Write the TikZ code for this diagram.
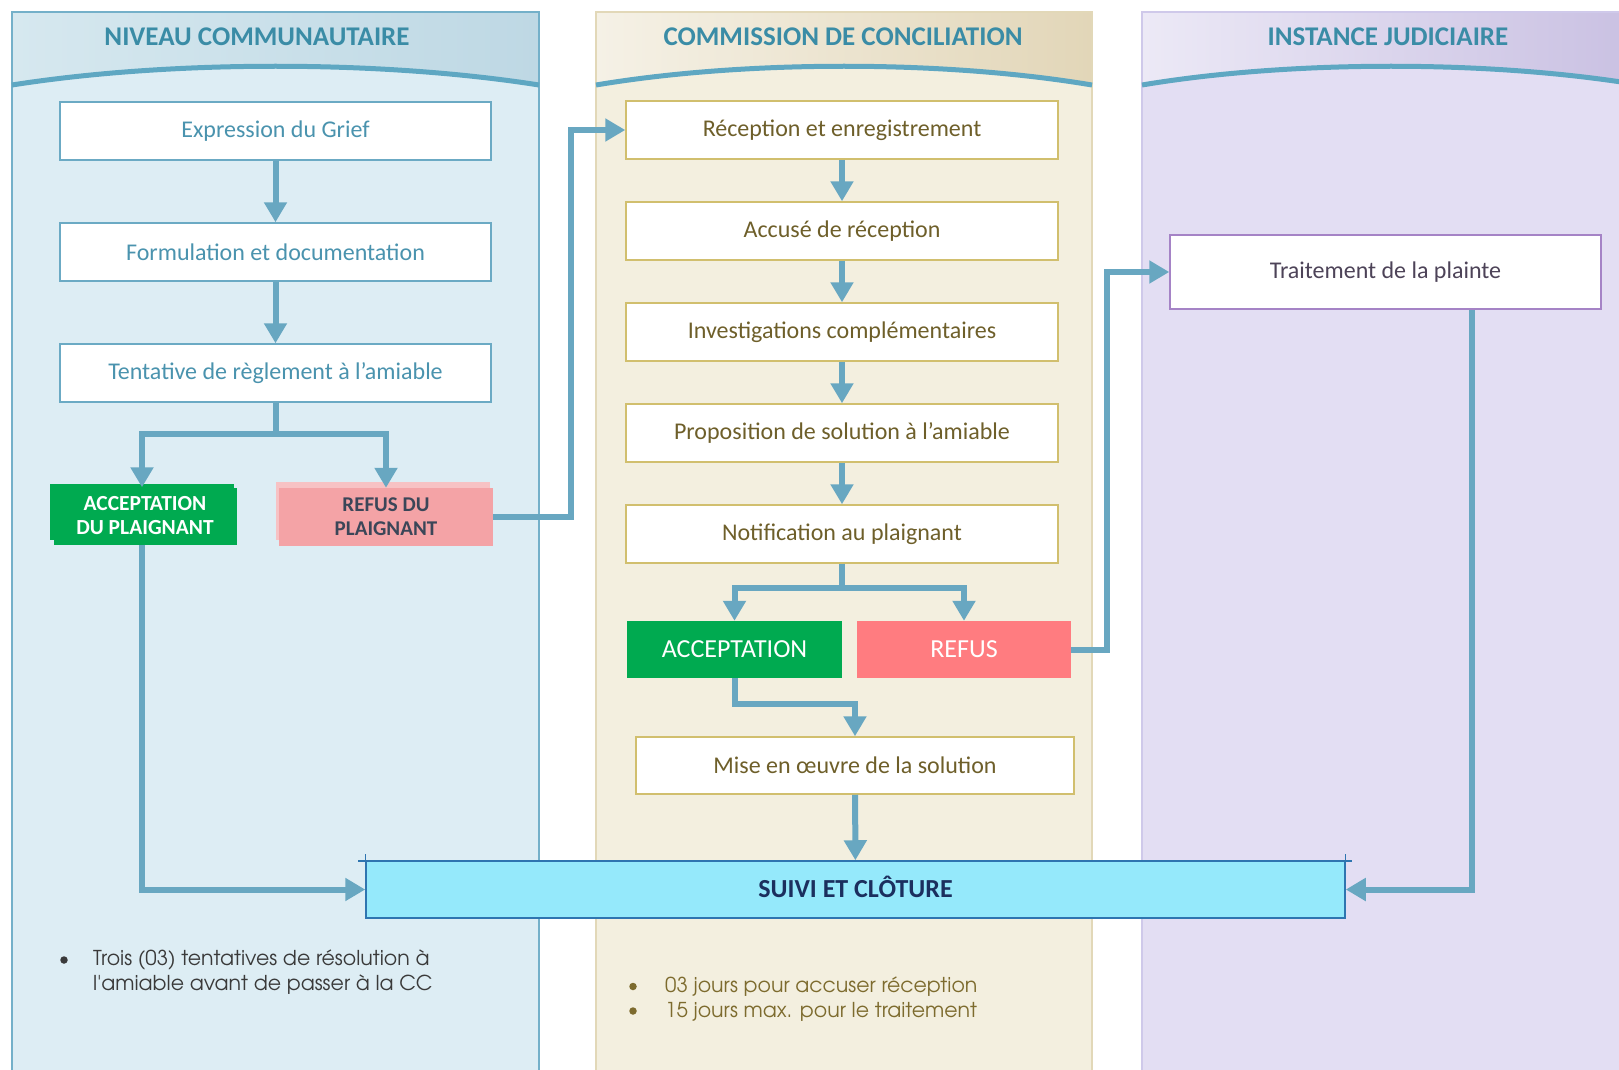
\documentclass[tikz,border=0pt]{standalone}
\usepackage{fontspec}
\setmainfont{Carlito}
\newfontfamily\gothic{texgyreadventor-regular.otf}
\usetikzlibrary{arrows.meta,calc}
\definecolor{lbody}{HTML}{DDEDF4}
\definecolor{lhdA}{HTML}{D6E8EF}
\definecolor{lhdB}{HTML}{BED8E4}
\definecolor{lbord}{HTML}{74B0C9}
\definecolor{mbody}{HTML}{F3EFDF}
\definecolor{mhdA}{HTML}{F5F1E6}
\definecolor{mhdB}{HTML}{E2D6B8}
\definecolor{mbord}{HTML}{E2D8B8}
\definecolor{rbody}{HTML}{E3DEF3}
\definecolor{rhdA}{HTML}{ECE9F6}
\definecolor{rhdB}{HTML}{C9C0E2}
\definecolor{rbord}{HTML}{CFC9EA}
\definecolor{arcc}{HTML}{5EA7C2}
\definecolor{hdtext}{HTML}{3A8CA6}
\definecolor{lboxc}{HTML}{6BAAC4}
\definecolor{ltext}{HTML}{4A93AE}
\definecolor{mboxc}{HTML}{D1BF6E}
\definecolor{mtext}{HTML}{6E5F2A}
\definecolor{rboxc}{HTML}{A583C6}
\definecolor{rtext}{HTML}{4D4358}
\definecolor{arrc}{HTML}{68A7C1}
\definecolor{okgreen}{HTML}{00AA50}
\definecolor{pinkA}{HTML}{F4A3A6}
\definecolor{pinkB}{HTML}{F7C2C4}
\definecolor{pinktext}{HTML}{3B4658}
\definecolor{refred}{HTML}{FF7C80}
\definecolor{suivifill}{HTML}{95E9FB}
\definecolor{suivibord}{HTML}{2E75B0}
\definecolor{suivitext}{HTML}{1B2F5E}
\definecolor{lnote}{HTML}{3A3A3A}
\definecolor{mnote}{HTML}{7D6B2E}
\begin{document}
\begin{tikzpicture}[x=1pt,y=-1pt,
  hdr/.style={text=hdtext,font=\fontsize{27}{31}\selectfont\bfseries},
  boxbase/.style={fill=white,line width=1.5pt,minimum height=58pt,inner sep=0pt,font=\fontsize{24}{28}\selectfont},
  lbox/.style={boxbase,draw=lboxc,text=ltext,minimum width=431pt},
  mbox/.style={boxbase,draw=mboxc,text=mtext,minimum width=432pt},
  rbox/.style={boxbase,draw=rboxc,text=rtext,minimum width=431pt,minimum height=74pt},
  arr/.style={draw=arrc,line width=6pt,-{Triangle[width=22pt,length=20pt]}},
  note/.style={font=\gothic\fontsize{20.5}{25}\selectfont,align=left,anchor=north west,inner sep=0pt},
  dot/.style={circle,inner sep=0pt,minimum size=7.5pt}
]
\useasboundingbox (0,0) rectangle (1619,1070);
\fill[white] (0,0) rectangle (1619,1070);

% ---- panels ----
\fill[lbody] (12,12) rectangle (539,1080);
\shade[left color=lhdA,right color=lhdB] (12,12) -- (539,12) -- (539,85) .. controls (380,60) and (171,60) .. (12,85) -- cycle;
\draw[lbord,line width=1.2pt] (12,1080) -- (12,12) -- (539,12) -- (539,1080);
\draw[arcc,line width=5pt] (12,85) .. controls (171,60) and (380,60) .. (539,85);

\fill[mbody] (596,12) rectangle (1092,1080);
\shade[left color=mhdA,right color=mhdB] (596,12) -- (1092,12) -- (1092,85) .. controls (943,60) and (745,60) .. (596,85) -- cycle;
\draw[mbord,line width=1.2pt] (596,1080) -- (596,12) -- (1092,12) -- (1092,1080);
\draw[arcc,line width=5pt] (596,85) .. controls (745,60) and (943,60) .. (1092,85);

\fill[rbody] (1142,12) rectangle (1640,1080);
\shade[left color=rhdA,right color=rhdB] (1142,12) -- (1640,12) -- (1640,85) .. controls (1491,60) and (1291,60) .. (1142,85) -- cycle;
\draw[rbord,line width=1.2pt] (1142,1080) -- (1142,12) -- (1640,12);
\draw[arcc,line width=5pt] (1142,85) .. controls (1291,60) and (1491,60) .. (1640,85);

\node[hdr] (h1) at (257,37) {NIVEAU COMMUNAUTAIRE};
\node[hdr] (h2) at (843,37) {COMMISSION DE CONCILIATION};
\node[hdr] (h3) at (1388,37) {INSTANCE JUDICIAIRE};

% ---- left column ----
\node[lbox] (grief) at (275.5,131) {Expression du Grief};
\node[lbox] (formu) at (275.5,252) {Formulation et documentation};
\node[lbox] (tent) at (275.5,373) {Tentative de règlement à l’amiable};

\fill[okgreen] (50,484) rectangle (234,540);
\node[fill=okgreen,minimum width=183pt,minimum height=57pt,inner sep=0pt,text=white,align=center,
  font=\fontsize{21.5}{24}\selectfont\bfseries] (accp) at (145,516) {ACCEPTATION\\DU PLAIGNANT};
\fill[pinkB] (276,482) rectangle (490,540);
\node[fill=pinkA,minimum width=214pt,minimum height=58pt,inner sep=0pt,text=pinktext,align=center,
  font=\fontsize{21}{24}\selectfont\bfseries] (refp) at (386,517) {REFUS DU\\PLAIGNANT};

% ---- middle column ----
\node[mbox] (recep) at (842,130) {Réception et enregistrement};
\node[mbox] (accus) at (842,231) {Accusé de réception};
\node[mbox] (inves) at (842,332) {Investigations complémentaires};
\node[mbox] (propo) at (842,433) {Proposition de solution à l’amiable};
\node[mbox] (notif) at (842,534) {Notification au plaignant};

\node[fill=okgreen,minimum width=215pt,minimum height=57pt,inner sep=0pt,text=white,
  font=\fontsize{26}{30}\selectfont] (acc) at (734.5,649.5) {ACCEPTATION};
\node[fill=refred,minimum width=214pt,minimum height=57pt,inner sep=0pt,text=white,
  font=\fontsize{26}{30}\selectfont] (ref) at (964,649.5) {REFUS};
\node[mbox,minimum width=438pt,minimum height=57pt] (mise) at (855,765.5) {Mise en œuvre de la solution};

% ---- right column ----
\node[rbox] (trait) at (1385.5,272) {Traitement de la plainte};

% ---- suivi ----
\node[fill=suivifill,draw=suivibord,line width=1.5pt,minimum width=979pt,minimum height=57pt,inner sep=0pt,
  text=suivitext,font=\fontsize{26}{30}\selectfont\bfseries] (suivi) at (855.5,889.5) {\raisebox{5pt}{SUIVI ET CLÔTURE}};
\draw[suivibord,line width=1.5pt] (358,861) -- (1352,861);
\draw[suivibord,line width=1.2pt] (suivi.north west) -- ++(0,-6);
\draw[suivibord,line width=1.2pt] (suivi.north east) -- ++(0,-6);

% ---- connectors ----
\coordinate (kA) at (571,300);
\coordinate (kB) at (1107,450);
\coordinate (kC) at (1472,600);
\coordinate (kD) at (142,600);

\draw[arr] (grief) -- (formu);
\draw[arr] (formu) -- (tent);
\draw[arr] (tent.south) -- ++(0,31) -| (accp.north -| kD);
\draw[arr] (tent.south) -- ++(0,31) -| (refp.north);
\draw[arr] (refp.east) -- (refp.east -| kA) |- (recep.west);
\draw[arr] (accp.south -| kD) |- (suivi.west);

\draw[arr] (recep) -- (accus);
\draw[arr] (accus) -- (inves);
\draw[arr] (inves) -- (propo);
\draw[arr] (propo) -- (notif);
\draw[arr] (notif.south) -- ++(0,24) -| (acc.north);
\draw[arr] (notif.south) -- ++(0,24) -| (ref.north);
\draw[arr] (acc.south) -- ++(0,26) -| (mise.north);
\draw[arr] (ref.east) -- (ref.east -| kB) |- (trait.west);
\draw[arr] (mise) -- (suivi);
\draw[arr] (trait.south -| kC) |- (suivi.east);

% ---- notes ----
\node[dot,fill=lnote] (b1) at (64,960) {};
\node[note,text=lnote] (n1) at (93,950) {Trois (03) tentatives de résolution à\\l'amiable avant de passer à la CC};
\node[dot,fill=mnote] (b2) at (633,986.5) {};
\node[dot,fill=mnote] (b3) at (633,1011) {};
\node[note,text=mnote] (n2) at (665,977) {03 jours pour accuser réception\\15 jours max. pour le traitement};
\end{tikzpicture}
\end{document}
